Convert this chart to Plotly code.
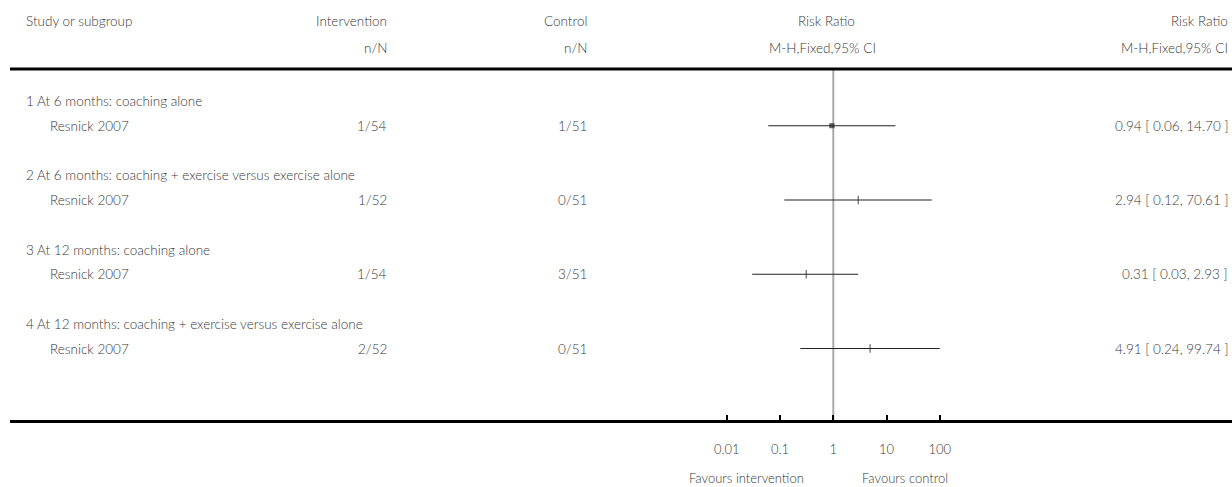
import plotly.graph_objects as go

# ---- data -------------------------------------------------------------
subgroups = [
    "1 At 6 months: coaching alone",
    "2 At 6 months: coaching + exercise versus exercise alone",
    "3 At 12 months: coaching alone",
    "4 At 12 months: coaching + exercise versus exercise alone",
]
studies = ["Resnick 2007", "Resnick 2007", "Resnick 2007", "Resnick 2007"]
intervention_nN = ["1/54", "1/52", "1/54", "2/52"]
control_nN = ["1/51", "0/51", "3/51", "0/51"]
risk_ratio = [0.94, 2.94, 0.31, 4.91]
ci_low = [0.06, 0.12, 0.03, 0.24]
ci_high = [14.70, 70.61, 2.93, 99.74]
tick_values = [0.01, 0.1, 1, 10, 100]
tick_labels = ["0.01", "0.1", "1", "10", "100"]

# ---- page geometry ----------------------------------------------------
W, H = 1232, 487
ROW_PX = 24.75          # height of one table row
FIRST_ROW_PX = 101      # centre of the first subgroup heading
TXT = "#383838"
FONT = "Lato"
WEIGHT = 300


def row_of(px):
    """pixel y -> row units on the y axis"""
    return (px - FIRST_ROW_PX) / ROW_PX


def px_x(px):
    return px / W


def paper_y(px):
    return 1 - px / H


# log axis: 1 sits at x=833, one decade = 53.25 px
ONE_PX, DECADE_PX = 833.3, 53.25
x_range = [-ONE_PX / DECADE_PX, (W - ONE_PX) / DECADE_PX]

sub_rows = [3 * i for i in range(len(subgroups))]
study_rows = [3 * i + 1 for i in range(len(studies))]
top_rule, bottom_rule = row_of(69), row_of(421.5)

fig = go.Figure()

# line of no effect
fig.add_trace(go.Scatter(
    x=[1, 1], y=[top_rule, bottom_rule], mode="lines",
    line=dict(color="#aaaaaa", width=2), hoverinfo="skip", showlegend=False))

# confidence intervals
for lo, hi, r in zip(ci_low, ci_high, study_rows):
    fig.add_trace(go.Scatter(
        x=[lo, hi], y=[r, r], mode="lines",
        line=dict(color="#222222", width=1), hoverinfo="skip", showlegend=False))

# point estimates
symbols = ["square", "line-ns", "line-ns", "line-ns"]
sizes = [4, 6, 6, 6]
fig.add_trace(go.Scatter(
    x=risk_ratio, y=study_rows, mode="markers",
    marker=dict(symbol=symbols, size=sizes, color="#222222",
                line=dict(color="#222222", width=1.2)),
    hoverinfo="skip", showlegend=False))

ann = []


def text(s, xpx, y, anchor="left", yref="y", size=13.5):
    ann.append(dict(text=s, x=px_x(xpx), xref="paper", y=y, yref=yref,
                    xanchor=anchor, yanchor="middle", showarrow=False,
                    font=dict(family=FONT, size=size, color=TXT, weight=WEIGHT)))


# column headers
h1, h2 = row_of(21), row_of(48)
text("Study or subgroup", 24, h1)
text("Intervention", 389, h1, "right")
text("n/N", 389, h2, "right")
text("Control", 589, h1, "right")
text("n/N", 589, h2, "right")
text("Risk Ratio", 826, h1, "center")
text("M-H,Fixed,95% CI", 822, h2, "center")
text("Risk Ratio", 1230, h1, "right")
text("M-H,Fixed,95% CI", 1230, h2, "right")

# body rows
for i in range(len(subgroups)):
    text(subgroups[i], 24, sub_rows[i])
    text(studies[i], 48, study_rows[i])
    text(intervention_nN[i], 389, study_rows[i], "right")
    text(control_nN[i], 589, study_rows[i], "right")
    text(f"{risk_ratio[i]:.2f} [ {ci_low[i]:.2f}, {ci_high[i]:.2f} ]",
         1230, study_rows[i], "right")

# favours labels
text("Favours intervention", 806, paper_y(478), "right", "paper", 13)
text("Favours control", 860, paper_y(478), "left", "paper", 13)

shapes = [
    dict(type="line", xref="paper", yref="y", x0=px_x(10), x1=1,
         y0=top_rule, y1=top_rule, line=dict(color="black", width=3)),
    dict(type="line", xref="paper", yref="y", x0=px_x(10), x1=1,
         y0=bottom_rule, y1=bottom_rule, line=dict(color="black", width=3)),
]

fig.update_layout(
    width=W, height=H, margin=dict(l=0, r=0, t=0, b=0),
    paper_bgcolor="white", plot_bgcolor="white",
    annotations=ann, shapes=shapes,
    xaxis=dict(type="log", range=x_range, domain=[0, 1],
               anchor="free", position=paper_y(421.5),
               tickvals=tick_values, ticktext=tick_labels,
               ticks="inside", ticklen=7, tickwidth=2, tickcolor="black",
               ticklabelstandoff=18,
               tickfont=dict(family=FONT, size=13, color=TXT, weight=WEIGHT),
               showline=False, showgrid=False, zeroline=False),
    yaxis=dict(range=[row_of(H), row_of(0)], domain=[0, 1], visible=False,
               showgrid=False, zeroline=False),
)

fig.write_html("out.html")
